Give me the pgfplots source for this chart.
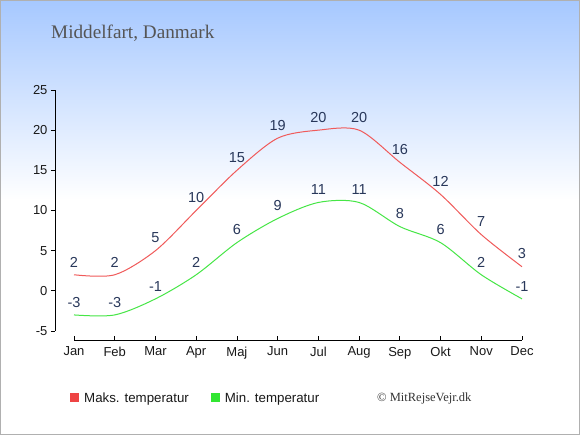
\documentclass[border=0pt]{standalone}
\usepackage{pgfplots}
\pgfplotsset{compat=1.18}
\usepackage{fontspec}
\setmainfont{Liberation Sans}
\newfontfamily\seriffont{Liberation Serif}
\definecolor{bgtop}{RGB}{166,200,255}
\definecolor{maxline}{RGB}{240,90,90}
\definecolor{minline}{RGB}{70,230,70}
\definecolor{maxleg}{RGB}{238,68,68}
\definecolor{minleg}{RGB}{50,230,50}
\definecolor{lab}{RGB}{40,55,90}
\definecolor{titlec}{RGB}{85,85,85}
\begin{document}
\begin{tikzpicture}[x=1pt,y=1pt]
% background
\fill[white] (0,0) rectangle (580,435);
\shade[top color=bgtop,bottom color=white] (0,235) rectangle (580,435);
\draw[color={rgb,255:red,176;green,176;blue,176},line width=1pt] (0.5,0.5) rectangle (579.5,434.5);
\node[anchor=base west,inner sep=0pt,text=titlec,font=\seriffont\fontsize{19.2}{22}\selectfont] at (51,396.7) {Middelfart, Danmark};
\node[anchor=west,inner sep=0pt,text=black!80,font=\seriffont\fontsize{12.5}{15}\selectfont] at (377,37) {© MitRejseVejr.dk};
\begin{axis}[
  at={(55pt,104pt)}, anchor=south west, scale only axis,
  width=467pt, height=241pt,
  xmin=-0.4666, xmax=11, ymin=-5, ymax=25,
  axis y line=left, axis x line=none,
  axis line style={-, black, line width=0.8pt},
  ytick={-5,0,5,10,15,20,25},
  yticklabels={-5,0,5,10,15,20,25},
  tick align=outside, major tick length=4pt,
  tick style={black, line width=0.8pt},
  yticklabel style={font=\fontsize{13}{15}\selectfont, text=black!90},
  clip=false,
  point meta=explicit symbolic,
  nodes near coords,
  every node near coord/.style={anchor=center, yshift=12.8pt, text=lab, font=\fontsize{14.5}{16}\selectfont, inner sep=0pt},
  legend style={at={(0.0321,-0.278)}, anchor=west, draw=none, fill=none,
    inner sep=0pt, row sep=0pt,
    nodes={inner sep=0pt, anchor=west, font=\fontsize{13.3}{15}\selectfont, text=black!90},
    /tikz/every odd column/.append style={column sep=5pt},
    /tikz/every even column/.append style={column sep=22pt}},
  legend columns=4,
  legend image code/.code={\fill[#1] (0pt,-4.5pt) rectangle (9pt,4.5pt);},
]
\addplot[maxline, line width=1pt, smooth, forget plot] coordinates {
(0,2) [2] (1,2) [2] (2,5) [5] (3,10) [10] (4,15) [15] (5,19) [19]
(6,20) [20] (7,20) [20] (8,16) [16] (9,12) [12] (10,7) [7] (11,3) [3]};
\addplot[minline, line width=1pt, smooth, forget plot] coordinates {
(0,-3) [-3] (1,-3) [-3] (2,-1) [-1] (3,2) [2] (4,6) [6] (5,9) [9]
(6,11) [11] (7,11) [11] (8,8) [8] (9,6) [6] (10,2) [2] (11,-1) [-1]};
\addlegendimage{fill=maxleg, draw=none}
\addlegendentry{Maks. temperatur}
\addlegendimage{fill=minleg, draw=none}
\addlegendentry{Min. temperatur}
\end{axis}
\begin{axis}[
  at={(74pt,95pt)}, anchor=south west, scale only axis,
  width=448pt, height=10pt,
  xmin=0, xmax=11, ymin=0, ymax=1,
  axis x line=bottom, axis y line=none,
  axis line style={-, black, line width=0.8pt},
  xtick={0,...,11},
  xticklabels={Jan,Feb,Mar,Apr,Maj,Jun,Jul,Aug,Sep,Okt,Nov,Dec},
  tick align=inside, major tick length=4pt,
  tick style={black, line width=0.8pt},
  xticklabel style={font=\fontsize{13}{15}\selectfont, text=black!90, yshift=-3.5pt},
]
\addplot[draw=none, forget plot] coordinates {(0,0.5) (11,0.5)};
\end{axis}
\pgfresetboundingbox
\useasboundingbox (0,0) rectangle (580,435);
\end{tikzpicture}
\end{document}
